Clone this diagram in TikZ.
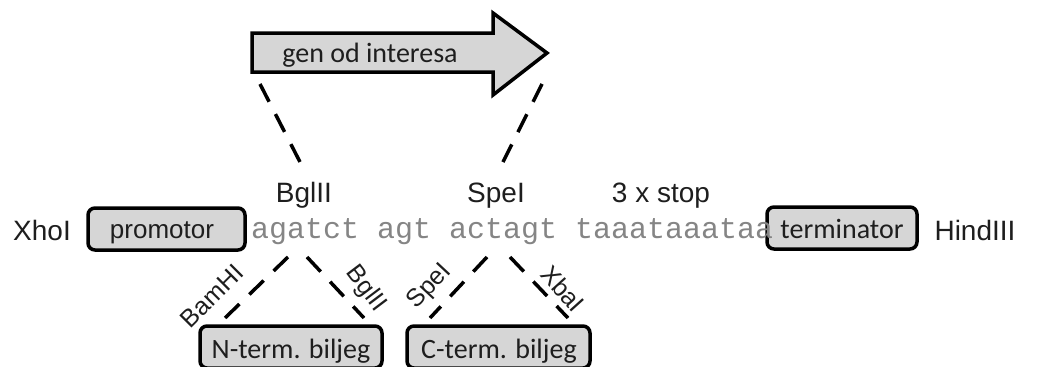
\documentclass[tikz,border=0pt]{standalone}
\usepackage{fontspec}
\setmainfont{Liberation Sans}
\setmonofont{Liberation Mono}
\newfontfamily\arialfont{Liberation Sans}
\newfontfamily\calfont{Carlito}
\definecolor{boxgrey}{HTML}{D6D6D6}
\definecolor{dnagrey}{HTML}{858585}
\definecolor{ink}{HTML}{1E1E1E}
\begin{document}
\begin{tikzpicture}[x=1pt,y=-1pt,
  lbl/.style={text=ink,inner sep=0pt,anchor=base,font=\arialfont\fontsize{28}{32}\selectfont},
  rlbl/.style={text=ink,inner sep=0pt,font=\arialfont\fontsize{25}{28}\selectfont},
  cal/.style={text=ink,inner sep=0pt,anchor=base,font=\calfont\fontsize{28}{32}\selectfont},
  partbox/.style={draw=black,line width=3.5pt,fill=boxgrey,rounded corners=7pt},
  dashline/.style={draw=black,line width=3.5pt,dash pattern=on 20pt off 13.8pt}]
\useasboundingbox (0,0) rectangle (1045,367);
% gene arrow
\draw[line width=3.5pt,fill=boxgrey,line join=miter]
  (252,33) -- (493,33) -- (493,13) -- (547,53) -- (493,95) -- (493,72) -- (252,72) -- cycle;
\node[cal] (gen) at (370,62) {gen od interesa};
% top dashed lines
\coordinate (gl) at (260,84);
\coordinate (gr) at (542,84);
\coordinate (bgtop) at (300,162);
\coordinate (spetop) at (503,162);
\draw[dashline] (gl) -- (bgtop);
\draw[dashline] (gr) -- (spetop);
% labels over sequence
\node[lbl] (bgl) at (304,202) {BglII};
\node[lbl] (spe) at (496,202) {SpeI};
\node[lbl] (stop) at (661,202) {3 x stop};
% main row
\node[lbl] (xho) at (42,240) {XhoI};
\node[lbl] (hind) at (975,240) {HindIII};
\path[partbox] (88,208) rectangle (245,250);
\node[lbl,font=\arialfont\fontsize{26}{30}\selectfont] (prom) at (162,238) {promotor};
\path[partbox] (767,207) rectangle (917,249);
\node[cal] (term) at (842,238) {terminator};
\node[text=dnagrey,inner sep=0pt,anchor=base west,font=\ttfamily\fontsize{30}{34}\selectfont] (dna) at (251,238) {agatct agt actagt taaataaataa};
% lower dashed lines
\coordinate (a1) at (288,257); \coordinate (a2) at (225,318);
\coordinate (b1) at (307,257); \coordinate (b2) at (364,318);
\coordinate (c1) at (487,257); \coordinate (c2) at (430,318);
\coordinate (d1) at (510,257); \coordinate (d2) at (568,318);
\draw[dashline] (a1) -- (a2);
\draw[dashline] (b1) -- (b2);
\draw[dashline] (c1) -- (c2);
\draw[dashline] (d1) -- (d2);
\node[rlbl,rotate=45] (bam) at (212,296) {BamHI};
\node[rlbl,rotate=-53] (bgl2) at (366,289) {BglII};
\node[rlbl,rotate=47] (spe2) at (430,287) {SpeI};
\node[rlbl,rotate=-48] (xba) at (563,289) {XbaI};
% tag boxes
\path[partbox] (200,326) rectangle (382,368);
\node[cal] (nterm) at (291,358) {N-term. biljeg};
\path[partbox] (407,326) rectangle (590,368);
\node[cal] (cterm) at (499,358) {C-term. biljeg};
\end{tikzpicture}
\end{document}
